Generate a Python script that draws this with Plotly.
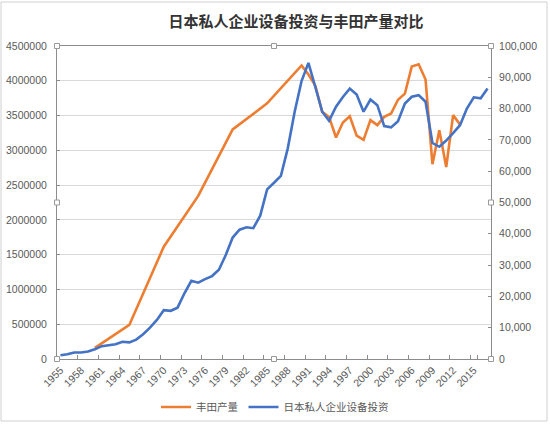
import plotly.graph_objects as go

# Categories (years) on the x axis
years = [str(y) for y in range(1955, 2018)]
tick_labels = [str(y) for y in range(1955, 2018, 3)]

# Toyota production (left axis) – sparse years, gaps connected
toyota_years = ["1960", "1965", "1970", "1975", "1980", "1985", "1990",
                "1991", "1992", "1993", "1994", "1995", "1996", "1997", "1998",
                "1999", "2000", "2001", "2002", "2003", "2004", "2005", "2006",
                "2007", "2008", "2009", "2010", "2011", "2012", "2013"]
toyota_production = [160000, 490000, 1615000, 2345000, 3300000, 3675000, 4220000,
                     4090000, 3930000, 3553000, 3480000, 3185000, 3400000, 3490000, 3210000,
                     3150000, 3434000, 3362000, 3481000, 3530000, 3728000, 3815000, 4205000,
                     4237000, 4018000, 2800000, 3290000, 2760000, 3506000, 3370000]

# Japanese private business equipment investment (right axis), 1955–2017
investment = [1200, 1500, 2100, 2100, 2400, 3100, 4100, 4500, 4700, 5500,
              5300, 6200, 7900, 10000, 12500, 15600, 15400, 16400, 21000, 25000,
              24400, 25500, 26500, 28500, 33200, 38800, 41300, 42100, 41800, 45800,
              54200, 56300, 58500, 67300, 79000, 88800, 94600, 86900, 79000, 76100,
              80600, 83700, 86400, 84500, 79000, 82900, 81100, 74400, 74000, 76000,
              81600, 83800, 84300, 82200, 69000, 67800, 69800, 72200, 74700, 80000,
              83600, 83300, 86400]

ORANGE = "#ED7D31"
BLUE = "#4472C4"
TXT = "#595959"
AXIS = "#8C8C8C"
GRID = "#D9D9D9"
FONT = "Liberation Sans, Arial, sans-serif"
CJK = "Noto Sans CJK SC, sans-serif"

L, R, T, B = 57, 59, 46, 65
W, H = 550, 424

fig = go.Figure()
fig.add_trace(go.Scatter(x=toyota_years, y=toyota_production, name="丰田产量",
                         mode="lines", line=dict(color=ORANGE, width=2.6),
                         yaxis="y"))
fig.add_trace(go.Scatter(x=years, y=investment, name="日本私人企业设备投资",
                         mode="lines", line=dict(color=BLUE, width=2.6),
                         yaxis="y2"))

fig.update_layout(
    width=W, height=H,
    margin=dict(l=L, r=R, t=T, b=B, autoexpand=False),
    paper_bgcolor="white", plot_bgcolor="white",
    font=dict(family=FONT, size=10, color=TXT),
    title=dict(text="<b>日本私人企业设备投资与丰田产量对比</b>",
               font=dict(family=CJK, size=15, color="#333333"),
               x=296 / W, xanchor="center", xref="container",
               y=1 - 22 / H, yanchor="middle", yref="container"),
    xaxis=dict(type="category", categoryorder="array", categoryarray=years,
               range=[-0.5, len(years) - 0.5], automargin=False,
               tickmode="array", tickvals=tick_labels, ticktext=tick_labels,
               tickson="boundaries", ticks="inside", ticklen=4,
               tickcolor=AXIS, tickangle=-45,
               showgrid=False, showline=True, linecolor=AXIS, linewidth=1,
               mirror=True, tickfont=dict(family=FONT, size=10.5, color=TXT)),
    yaxis=dict(range=[0, 4500000], dtick=500000, tick0=0, tickformat="d",
               automargin=False,
               showgrid=True, gridcolor=GRID, gridwidth=1,
               showline=True, linecolor=AXIS, linewidth=1,
               ticks="inside", ticklen=3, tickcolor=AXIS, zeroline=False,
               ticklabelstandoff=7,
               tickfont=dict(family=FONT, size=10.5, color=TXT)),
    yaxis2=dict(range=[0, 100000], dtick=10000, tick0=0, tickformat=",d",
                automargin=False,
                overlaying="y", side="right", showgrid=False,
                showline=True, linecolor=AXIS, linewidth=1,
                ticks="inside", ticklen=3, tickcolor=AXIS, zeroline=False,
                ticklabelstandoff=5,
                tickfont=dict(family=FONT, size=10.5, color=TXT)),
    legend=dict(orientation="h", x=(275 - L) / (W - L - R), xanchor="center",
                y=(H - B - 407) / (H - T - B), yanchor="middle",
                font=dict(family=CJK, size=10.5, color=TXT),
                bgcolor="rgba(0,0,0,0)"),
    showlegend=True,
)

# chart-area border
pw, ph = W - L - R, H - T - B
fig.add_shape(type="rect", xref="paper", yref="paper",
              x0=(1 - L) / pw, x1=(W - 3 - L) / pw,
              y0=-(B - 3) / ph, y1=(H - B - 2) / ph,
              line=dict(color="#D0D0D0", width=1), layer="below")

# plot-area selection handles
for hx in (0, 0.5, 1):
    for hy in (0, 0.5, 1):
        if hx == 0.5 and hy == 0.5:
            continue
        fig.add_shape(type="rect", xref="paper", yref="paper",
                      x0=hx - 2.5 / pw, x1=hx + 2.5 / pw,
                      y0=hy - 2.5 / ph, y1=hy + 2.5 / ph,
                      line=dict(color="#9A9A9A", width=1), fillcolor="white")

fig.write_html("out.html",
               config={"displayModeBar": False},
               post_script="document.body.style.margin='0';"
                           "document.body.style.overflow='hidden';")
